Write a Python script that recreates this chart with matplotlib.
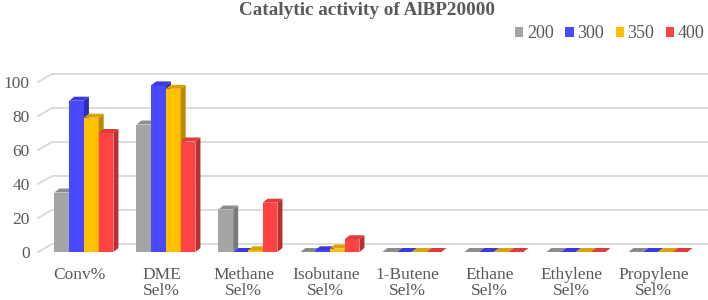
import numpy as np
import matplotlib.pyplot as plt
from matplotlib.patches import Polygon

# données
categories = ['Conv%', 'DME\nSel%', 'Methane\nSel%', 'Isobutane\nSel%',
              '1-Butene\nSel%', 'Ethane\nSel%', 'Ethylene\nSel%', 'Propylene\nSel%']
temps = ['200', '300', '350', '400']
v200 = [35, 75, 25, 0, 0, 0, 0, 0]
v300 = [89, 98, 0, 1, 0, 0, 0, 0]
v350 = [79, 96, 1, 2, 0, 0, 0, 0]
v400 = [70, 65, 29, 7.5, 0, 0, 0, 0]
series = [v200, v300, v350, v400]

fronts = ['#A5A5A5', '#4848FF', '#FFC000', '#FF4343']
tops = ['#8C8C8C', '#3A3AE0', '#D9A300', '#E03A3A']
sides = ['#7A7A7A', '#2E2EB5', '#B88A00', '#B83030']
txt = '#595959'
plt.rcParams['font.family'] = ['Liberation Serif', 'DejaVu Serif']

fig = plt.figure(figsize=(7.08, 3.0), dpi=100)
W, H = 708, 300
ax = fig.add_axes([38 / W, 48 / H, 656 / W, 170 / H])
x0, x1 = -0.51, 7.49
ax.set_xlim(x0, x1)
ax.set_ylim(0, 100)
ux = 656 / (x1 - x0)   # px par unité x
uy = 170 / 100         # px par unité y

# profondeur du mur et des barres (en pixels -> données)
wdx, wdy = 14 / ux, 8 / uy
bdx, bdy = 5 / ux, 4 / uy

# grille en perspective
for v in range(0, 101, 20):
    ax.plot([x0, x0 + wdx, x1 + wdx], [v, v + wdy, v + wdy], color='#D9D9D9',
            lw=1.3, clip_on=False, zorder=0)

bw = 0.18
shift = 0.05
xs = np.arange(len(categories))
z = 2
for c in range(len(categories)):
    for i, vals in enumerate(series):
        left = xs[c] + shift - 2 * bw + i * bw
        h = vals[c]
        if h > 0:
            ax.add_patch(Polygon([[left, 0], [left + bw, 0], [left + bw, h], [left, h]],
                                 closed=True, fc=fronts[i], ec='none', zorder=z, clip_on=False))
            ax.add_patch(Polygon([[left + bw, 0], [left + bw + bdx, bdy],
                                  [left + bw + bdx, h + bdy], [left + bw, h]],
                                 closed=True, fc=sides[i], ec='none', zorder=z, clip_on=False))
        ax.add_patch(Polygon([[left, h], [left + bw, h], [left + bw + bdx, h + bdy],
                              [left + bdx, h + bdy]],
                             closed=True, fc=tops[i], ec='none',
                             zorder=z + 0.5, clip_on=False))
        z += 1

for s in ax.spines.values():
    s.set_visible(False)
ax.set_xticks(xs)
ax.set_xticklabels(categories, fontsize=12.5, color=txt, linespacing=1.0)
ax.set_yticks(range(0, 101, 20))
ax.set_yticklabels([str(v) for v in range(0, 101, 20)], fontsize=12.5, color=txt)
ax.tick_params(axis='both', length=0)
ax.tick_params(axis='x', pad=11)
ax.tick_params(axis='y', pad=6)

fig.text(0.519, 0.966, 'Catalytic activity of AlBP20000', ha='center', va='center',
         fontsize=13.8, fontweight='bold', color=txt)

handles = [plt.Rectangle((0, 0), 1, 1, fc=fronts[i], ec='none') for i in range(4)]
fig.legend(handles, temps, loc='center right', bbox_to_anchor=(0.995, 0.888), ncol=4,
           frameon=False, fontsize=13, labelcolor=txt, handlelength=0.45,
           handleheight=0.45, handletextpad=0.2, columnspacing=0.65,
           borderaxespad=0, borderpad=0)

fig.savefig('out.png', dpi=100)
